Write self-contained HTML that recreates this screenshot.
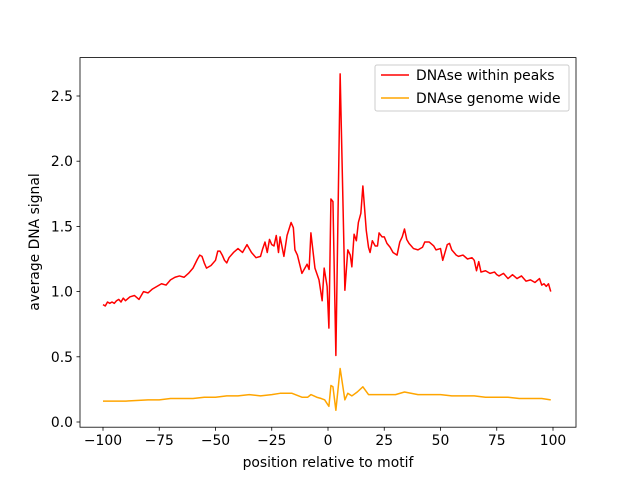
<!DOCTYPE html>
<html><head><meta charset="utf-8"><style>
body{margin:0;background:#fff}
svg text{font-family:"DejaVu Sans","Liberation Sans",sans-serif;font-size:13.9px;fill:#000}
</style></head><body>
<svg id="chart" width="640" height="480">
</svg>
<script>
const redX=[-100,-99,-98,-97,-96,-95,-94,-93,-92,-91,-90,-88,-86,-84,-82,-80,-78,-76,-74,-72,-70,-68,-66,-64,-62,-60,-58,-57,-56,-55,-54,-52,-50,-49,-48,-47,-46,-45,-44,-42,-40,-38,-36,-35,-34,-32,-30,-29,-28,-27,-26,-25,-24,-23,-22,-21.3,-19.6,-18.2,-16.4,-15.4,-14.7,-13.6,-11.6,-9.3,-8.4,-7.6,-5.8,-4,-2.6,-1.7,-0.4,0.4,1.3,2.2,3.5,5.4,7.5,8.8,9.9,10.6,11.6,12.6,13.5,14.6,15.5,17,18,18.7,19.7,21,22,22.7,24,25,26.2,27.6,28.9,30.7,31.9,33,34,35,36,38,40,42,43,45,47,48,50,51,52,53,54,55,57,58,60,62,64,65,66,67,68,70,72,74,75,76,78,80,82,84,86,88,90,92,94,95,96,97,98,99];
const redY=[0.90,0.89,0.92,0.91,0.92,0.91,0.93,0.94,0.92,0.95,0.93,0.96,0.97,0.94,1.00,0.99,1.02,1.04,1.06,1.05,1.09,1.11,1.12,1.11,1.14,1.18,1.25,1.28,1.27,1.22,1.18,1.20,1.24,1.31,1.31,1.28,1.24,1.22,1.26,1.30,1.33,1.30,1.36,1.33,1.30,1.26,1.27,1.33,1.38,1.30,1.40,1.36,1.35,1.43,1.30,1.42,1.27,1.43,1.53,1.49,1.32,1.28,1.14,1.21,1.17,1.45,1.18,1.09,0.93,1.18,1.04,0.72,1.71,1.69,0.51,2.67,1.01,1.32,1.28,1.19,1.44,1.39,1.53,1.60,1.81,1.47,1.34,1.30,1.39,1.35,1.35,1.45,1.42,1.42,1.37,1.34,1.30,1.28,1.38,1.42,1.48,1.40,1.37,1.33,1.32,1.34,1.38,1.38,1.35,1.32,1.33,1.24,1.30,1.36,1.37,1.32,1.28,1.27,1.28,1.25,1.26,1.24,1.16,1.23,1.15,1.16,1.14,1.15,1.13,1.12,1.14,1.10,1.13,1.10,1.12,1.08,1.09,1.07,1.10,1.05,1.06,1.04,1.06,1.00,1.01,1.04];
const orX=[-100,-90,-80,-75,-70,-60,-55,-50,-45,-40,-35,-30,-25,-21.3,-18,-16,-11.6,-9,-7.6,-5,-3,-1.5,0.4,1.3,2.2,3.5,5.4,7.5,8.8,10.6,13,15.5,18,22,25,30,34,40,45,50,55,60,65,70,75,80,85,90,95,99];
const orY=[0.16,0.16,0.17,0.17,0.18,0.18,0.19,0.19,0.20,0.20,0.21,0.20,0.21,0.22,0.22,0.22,0.19,0.19,0.21,0.19,0.18,0.17,0.12,0.28,0.27,0.09,0.41,0.17,0.22,0.20,0.23,0.27,0.21,0.21,0.21,0.21,0.23,0.21,0.21,0.21,0.20,0.20,0.20,0.19,0.19,0.19,0.18,0.18,0.18,0.17];
const xTicks=[-100,-75,-50,-25,0,25,50,75,100];
const yTicks=[0.0,0.5,1.0,1.5,2.0,2.5];
const L=80,R=576,T=57.6,B=427.2;
const sx=v=>328+v*2.25, sy=v=>422-v*130.4;
const svg=document.getElementById('chart');const NS='http://www.w3.org/2000/svg';
function mk(t,a,p){const e=document.createElementNS(NS,t);for(const k in a)e.setAttribute(k,a[k]);(p||svg).appendChild(e);return e;}
function line(xs,ys,c,name){const p=mk('polyline',{points:xs.map((x,i)=>sx(x)+','+sy(ys[i])).join(' '),fill:'none',stroke:c,'stroke-width':1.5,'stroke-linejoin':'round'});

}
line(orX,orY,'#ffa500','series-dnase-genome-wide');
line(redX,redY,'#ff0000','series-dnase-within-peaks');
const fr=mk('rect',{x:L,y:T,width:R-L,height:B-T,fill:'none',stroke:'#000','stroke-width':0.8});


xTicks.forEach(v=>{const x=sx(v);mk('line',{x1:x,x2:x,y1:B,y2:B+3.5,stroke:'#000','stroke-width':0.8});
const t=mk('text',{x:x,y:B+18,'text-anchor':'middle'});t.textContent=v<0?'\u2212'+(-v):v;

});
yTicks.forEach(v=>{const y=sy(v);mk('line',{x1:L,x2:L-3.5,y1:y,y2:y,stroke:'#000','stroke-width':0.8});
const t=mk('text',{x:L-7,y:y+5,'text-anchor':'end'});t.textContent=v.toFixed(1);

});
const xt=mk('text',{x:328,y:467,'text-anchor':'middle'});xt.textContent='position relative to motif';


const yt=mk('text',{x:0,y:0,'text-anchor':'middle',transform:'translate(39,242) rotate(-90)'});yt.textContent='average DNA signal';


const lg=mk('g',{});


mk('rect',{x:375,y:65,width:194,height:46,rx:2,fill:'#fff','fill-opacity':0.8,stroke:'#ccc'},lg);
mk('line',{x1:381,x2:409,y1:75,y2:75,stroke:'#ff0000','stroke-width':1.5},lg);
mk('line',{x1:381,x2:409,y1:98,y2:98,stroke:'#ffa500','stroke-width':1.5},lg);
const l1=mk('text',{x:416,y:80},lg);l1.textContent='DNAse within peaks';


const l2=mk('text',{x:416,y:103},lg);l2.textContent='DNAse genome wide';


</script>
</body></html>
